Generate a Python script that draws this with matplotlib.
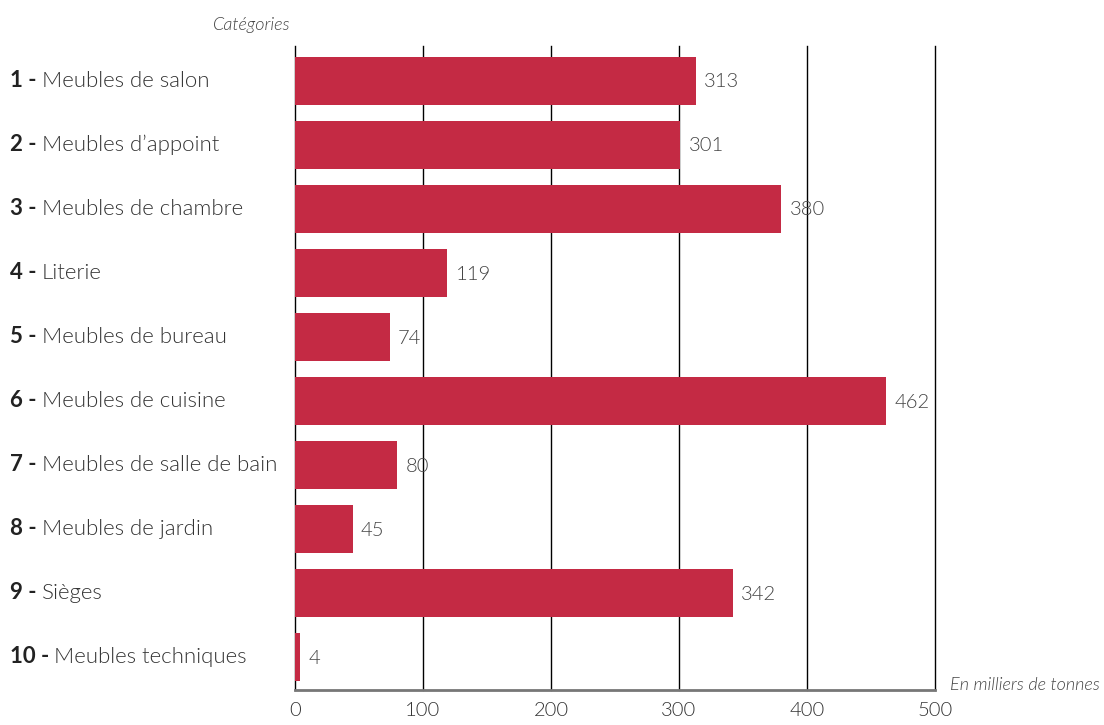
import matplotlib
matplotlib.use('Agg')
from matplotlib import pyplot as plt

nums = ['1', '2', '3', '4', '5', '6', '7', '8', '9', '10']
categories = ['Meubles de salon', 'Meubles d\u2019appoint', 'Meubles de chambre', 'Literie',
              'Meubles de bureau', 'Meubles de cuisine', 'Meubles de salle de bain',
              'Meubles de jardin', 'Sièges', 'Meubles techniques']
values = [313, 301, 380, 119, 74, 462, 80, 45, 342, 4]
ticks = [0, 100, 200, 300, 400, 500]

plt.rcParams['font.family'] = ['Lato', 'DejaVu Sans']
LIGHT = 300

fig = plt.figure(figsize=(11.04, 7.25), dpi=100)
ax = fig.add_axes([295/1104, 1-690/725, 640/1104, 644/725])

ypos = list(range(len(values)))
ax.barh(ypos, values, height=0.75, color='#C42A44', zorder=3)
for y, v in zip(ypos, values):
    ax.annotate(str(v), (v, y), xytext=(6, -1), textcoords='offset points',
                va='center', ha='left', fontsize=14.5, color='#444444', fontweight=LIGHT)

ax.set_xlim(0, 500)
ax.set_ylim(9.52, -0.54)
ax.set_xticks(ticks)
ax.set_xticklabels([str(t) for t in ticks], fontsize=14.5, color='#333333', fontweight=LIGHT)
ax.tick_params(axis='x', length=0, pad=9)
ax.set_yticks([])
for t in ticks[1:]:
    ax.axvline(t, color='black', lw=1, zorder=1, clip_on=False)
for s in ['top', 'right']:
    ax.spines[s].set_visible(False)
ax.spines['left'].set_color('black')
ax.spines['left'].set_linewidth(1)
ax.spines['bottom'].set_color('#777777')
ax.spines['bottom'].set_linewidth(2)

# category labels: bold number + light text
fig.canvas.draw()
r = fig.canvas.get_renderer()
for y, n, c in zip(ypos, nums, categories):
    yd = ax.transData.transform((0, y))[1]
    yf = yd / fig.bbox.height
    t1 = fig.text(10/1104, yf, n + ' -', fontsize=16, fontweight='bold', color='#222222', va='center')
    bb = t1.get_window_extent(renderer=r)
    fig.text((bb.x1 + 5)/1104, yf, c, fontsize=16, fontweight=LIGHT, color='#333333', va='center')

fig.text(291/1104, 1-25/725, 'Catégories', fontsize=13, style='italic', color='#444444',
         ha='right', va='center', fontweight=LIGHT)
fig.text(950/1104, 1-685/725, 'En milliers de tonnes', fontsize=13, style='italic', color='#444444',
         ha='left', va='center', fontweight=LIGHT)

fig.savefig('out.png', dpi=100)
